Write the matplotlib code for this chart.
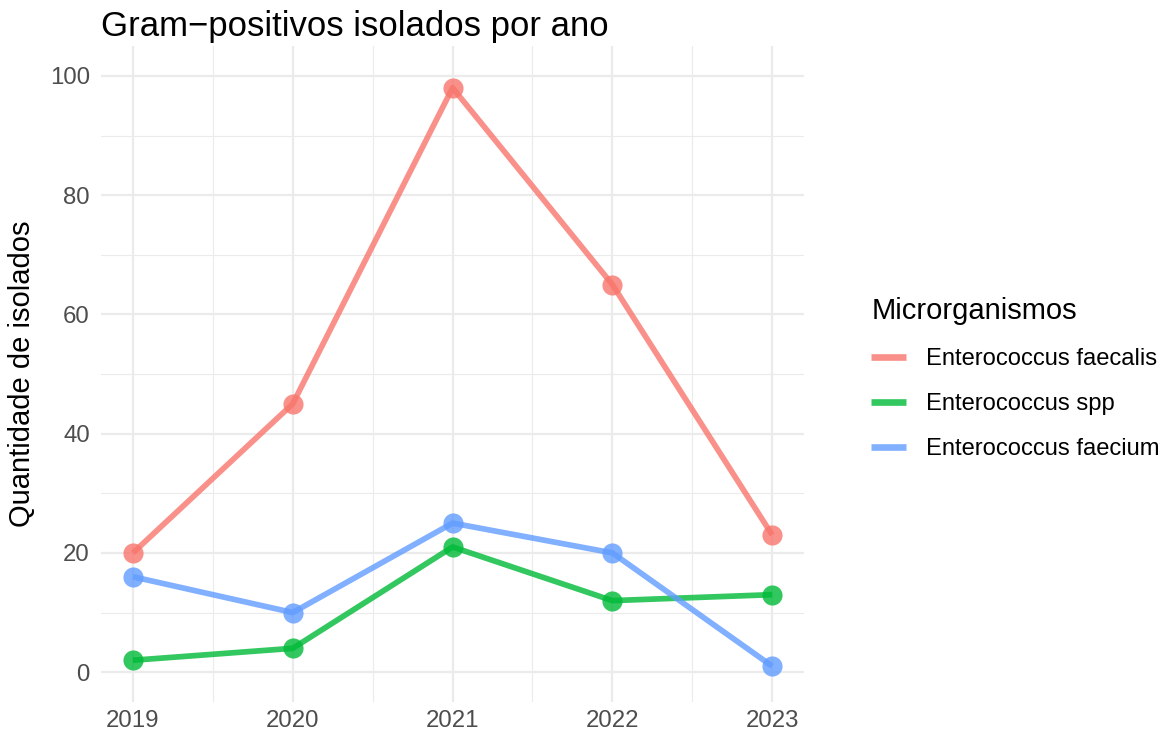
import matplotlib

matplotlib.use("Agg")
from matplotlib import pyplot as plt
from matplotlib.ticker import MultipleLocator

plt.rcParams["font.family"] = ["Liberation Sans", "DejaVu Sans"]

anos = [2019, 2020, 2021, 2022, 2023]
series = ["Enterococcus faecalis", "Enterococcus spp", "Enterococcus faecium"]
faecalis = [20, 45, 98, 65, 23]
spp = [2, 4, 21, 12, 13]
faecium = [16, 10, 25, 20, 1]
cores = ["#F8766D", "#00BA38", "#619CFF"]

fig = plt.figure(figsize=(11.74, 7.37), dpi=100)
ax = fig.add_axes([0.086, 0.0475, 0.599, 0.89])

for nome, vals, cor in zip(series, [faecalis, spp, faecium], cores):
    ax.plot(anos, vals, color=cor, lw=4.1, alpha=0.8, label=nome,
            solid_capstyle="butt", zorder=3)
    ax.plot(anos, vals, "o", color=cor, ms=14.5, alpha=0.8, mew=0, zorder=4)

ax.set_xlim(2018.8, 2023.2)
ax.set_ylim(-5, 105)
ax.set_xticks(anos)
ax.xaxis.set_minor_locator(MultipleLocator(0.5))
ax.yaxis.set_major_locator(MultipleLocator(20))
ax.yaxis.set_minor_locator(MultipleLocator(10))
ax.grid(which="major", color="#EBEBEB", lw=1.6)
ax.grid(which="minor", color="#EBEBEB", lw=0.8)
ax.set_axisbelow(True)
for s in ax.spines.values():
    s.set_visible(False)
ax.tick_params(which="both", length=0, labelsize=17.3, labelcolor="#4D4D4D")
ax.tick_params(axis="x", pad=6)
ax.tick_params(axis="y", pad=8)

ax.set_ylabel("Quantidade de isolados", fontsize=21, labelpad=10)
fig.text(0.086, 0.964, "Gram\u2212positivos isolados por ano", fontsize=25,
         ha="left", va="center")

leg = ax.legend(loc="center left", bbox_to_anchor=(0.724, 0.486),
                bbox_transform=fig.transFigure, frameon=False, fontsize=17.1,
                title="Microrganismos", title_fontsize=21,
                handlelength=1.45, handletextpad=0.83, labelspacing=0.97)
leg._legend_box.align = "left"
for h in leg.get_lines():
    h.set_linewidth(4.8)

fig.savefig("out.png", dpi=100)
